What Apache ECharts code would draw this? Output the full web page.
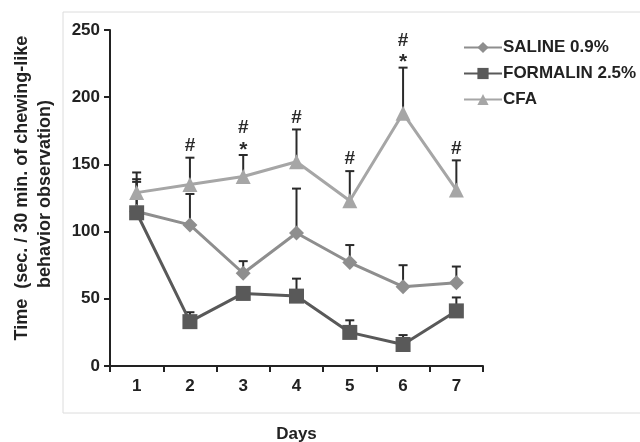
<!DOCTYPE html>
<html>
<head>
<meta charset="utf-8">
<script src="https://cdn.jsdelivr.net/npm/echarts@6/dist/echarts.min.js"></script>
<style>html,body{margin:0;padding:0;background:#fff}#c{width:640px;height:442px}</style>
</head>
<body>
<div id="c"></div>
<script>
const days = ['1', '2', '3', '4', '5', '6', '7'];
const yTicks = [0, 50, 100, 150, 200, 250];
const saline = [115, 105, 69, 99, 77, 59, 62];
const salineTop = [139, 128, 78, 132, 90, 75, 74];
const formalin = [114, 33, 54, 52, 25, 16, 41];
const formalinTop = [137, 40, 57, 65, 34, 23, 51];
const cfa = [129, 135, 141, 152, 123, 188, 131];
const cfaTop = [144, 155, 157, 176, 145, 222, 153];
const hashMarks = ['', '#', '#', '#', '#', '#', '#'];
const starMarks = ['', '', '*', '', '', '*', ''];

const FONT = '"Liberation Sans", Arial, sans-serif';
const chart = echarts.init(document.getElementById('c'), null, {renderer: 'canvas'});

function errData(vals, tops) {
  return vals.map((v, i) => [i, v, tops[i]]);
}
function errRender(withMarks) {
  return function (params, api) {
    const i = api.value(0);
    const p0 = api.coord([i, api.value(1)]);
    const p1 = api.coord([i, api.value(2)]);
    const st = {stroke: '#2a2a2a', lineWidth: 2};
    const children = [
      {type: 'line', shape: {x1: p0[0], y1: p0[1], x2: p1[0], y2: p1[1]}, style: st},
      {type: 'line', shape: {x1: p1[0] - 4.5, y1: p1[1], x2: p1[0] + 4.5, y2: p1[1]}, style: st}
    ];
    if (withMarks) {
      const h = hashMarks[i], s = starMarks[i];
      if (s) {
        children.push({type: 'text', style: {text: s, x: p1[0], y: p1[1] - 5, align: 'center', verticalAlign: 'middle', font: 'bold 21px ' + FONT, fill: '#2a2a2a'}});
      }
      if (h) {
        children.push({type: 'text', style: {text: h, x: p1[0], y: p1[1] - (s ? 27 : 12), align: 'center', verticalAlign: 'middle', font: 'bold 19px ' + FONT, fill: '#2a2a2a'}});
      }
    }
    return {type: 'group', children: children};
  };
}

const option = {
  animation: false,
  backgroundColor: '#fff',
  grid: {left: 110, right: 157, top: 30, bottom: 76, outerBoundsMode: 'none', containLabel: false},
  graphic: [
    {type: 'rect', shape: {x: 63, y: 12, width: 600, height: 401}, style: {fill: 'none', stroke: '#dcdcdc', lineWidth: 1}, z: -1},
    {type: 'text', x: 22, y: 188, rotation: Math.PI / 2, style: {text: 'Time  (sec. / 30 min. of chewing-like', align: 'center', verticalAlign: 'middle', font: 'bold 18px ' + FONT, fill: '#222'}},
    {type: 'text', x: 45, y: 194, rotation: Math.PI / 2, style: {text: 'behavior observation)', align: 'center', verticalAlign: 'middle', font: 'bold 18px ' + FONT, fill: '#222'}}
  ],
  legend: {
    orient: 'vertical', left: 458, top: 34, itemGap: 9,
    itemWidth: 38, itemHeight: 14,
    textStyle: {fontFamily: FONT, fontWeight: 'bold', fontSize: 17, color: '#222', padding: [0, 0, 0, -4]},
    data: ['SALINE 0.9%', 'FORMALIN 2.5%', 'CFA']
  },
  xAxis: {
    type: 'category', data: days, boundaryGap: true,
    name: 'Days', nameLocation: 'middle', nameGap: 60,
    nameTextStyle: {fontFamily: FONT, fontWeight: 'bold', fontSize: 17, color: '#222'},
    axisLine: {lineStyle: {color: '#222', width: 2}},
    axisTick: {show: true, length: 6, lineStyle: {color: '#222', width: 2}},
    axisLabel: {fontFamily: FONT, fontWeight: 'bold', fontSize: 17, color: '#222', margin: 12},
    splitLine: {show: false}
  },
  yAxis: {
    type: 'value', min: 0, max: 250, interval: 50,
    axisLine: {show: true, lineStyle: {color: '#222', width: 2}},
    axisTick: {show: true, length: 6, lineStyle: {color: '#222', width: 2}},
    axisLabel: {fontFamily: FONT, fontWeight: 'bold', fontSize: 17, color: '#222', margin: 10,
      formatter: v => yTicks.includes(v) ? String(v) : ''},
    splitLine: {show: false}
  },
  series: [
    {type: 'custom', name: 'errS', data: errData(saline, salineTop), renderItem: errRender(false), z: 1, silent: true},
    {type: 'custom', name: 'errF', data: errData(formalin, formalinTop), renderItem: errRender(false), z: 1, silent: true},
    {type: 'custom', name: 'errC', data: errData(cfa, cfaTop), renderItem: errRender(true), z: 1, silent: true},
    {type: 'line', name: 'SALINE 0.9%', data: saline, symbol: 'diamond', symbolSize: 15,
      lineStyle: {color: '#8e8e8e', width: 3}, itemStyle: {color: '#8e8e8e'}, z: 3},
    {type: 'line', name: 'FORMALIN 2.5%', data: formalin, symbol: 'rect', symbolSize: 15,
      lineStyle: {color: '#595959', width: 3}, itemStyle: {color: '#595959'}, z: 4},
    {type: 'line', name: 'CFA', data: cfa, symbol: 'triangle', symbolSize: 15,
      lineStyle: {color: '#a6a6a6', width: 3}, itemStyle: {color: '#a6a6a6'}, z: 5}
  ]
};
chart.setOption(option);
</script>
</body>
</html>
